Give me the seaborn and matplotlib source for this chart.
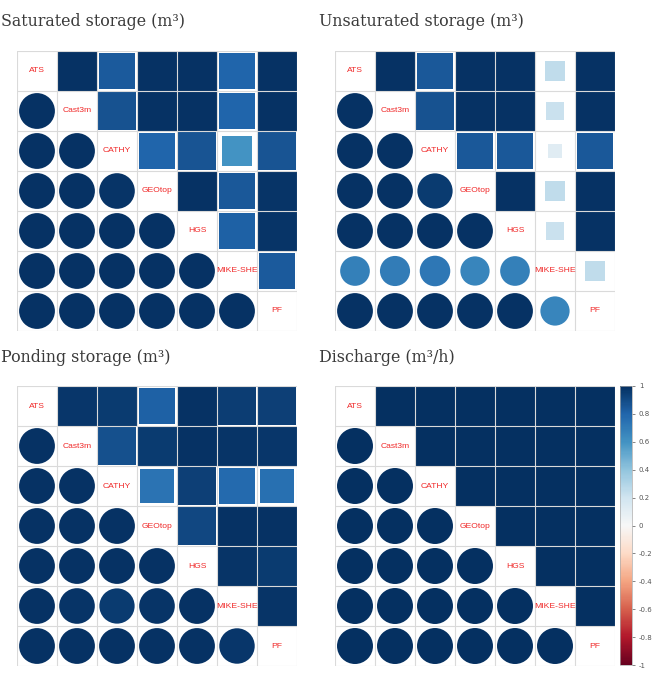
import numpy as np
import pandas as pd
import matplotlib
matplotlib.use("Agg")
import matplotlib.pyplot as plt
import seaborn as sns

sns.set_style("white")

models = ["ATS", "Cast3m", "CATHY", "GEOtop", "HGS", "MIKE-SHE", "PF"]

# upper triangle = squares, lower triangle = circles (diagonal not drawn)
sat_corr = [
    [1.00, 0.99, 0.84, 0.99, 0.99, 0.80, 0.99],
    [0.99, 1.00, 0.87, 0.99, 0.99, 0.80, 0.99],
    [0.99, 0.99, 1.00, 0.80, 0.86, 0.60, 0.86],
    [0.99, 0.99, 0.98, 1.00, 0.99, 0.85, 0.98],
    [0.99, 0.99, 0.99, 0.99, 1.00, 0.82, 0.98],
    [0.99, 0.99, 0.99, 0.99, 0.99, 1.00, 0.84],
    [0.99, 0.99, 0.99, 0.99, 0.99, 0.99, 1.00],
]
unsat_corr = [
    [1.00, 0.99, 0.85, 0.99, 0.99, 0.25, 0.99],
    [0.99, 1.00, 0.87, 0.99, 0.99, 0.22, 0.99],
    [0.99, 0.99, 1.00, 0.85, 0.85, 0.12, 0.85],
    [0.99, 0.99, 0.96, 1.00, 0.99, 0.25, 0.99],
    [0.99, 0.99, 0.99, 0.99, 1.00, 0.22, 0.99],
    [0.68, 0.70, 0.72, 0.66, 0.68, 1.00, 0.25],
    [0.99, 0.99, 0.99, 0.99, 0.99, 0.66, 1.00],
]
pond_corr = [
    [1.00, 0.97, 0.96, 0.82, 0.99, 0.95, 0.94],
    [0.99, 1.00, 0.88, 0.96, 0.99, 0.98, 0.97],
    [0.99, 0.99, 1.00, 0.74, 0.94, 0.78, 0.75],
    [0.99, 0.99, 0.99, 1.00, 0.91, 0.99, 0.99],
    [0.99, 0.99, 0.99, 0.99, 1.00, 0.98, 0.96],
    [0.99, 0.98, 0.96, 0.98, 0.99, 1.00, 0.98],
    [0.99, 0.99, 0.99, 0.99, 0.99, 0.97, 1.00],
]
dis_corr = [[1.0] * 7 for _ in range(7)]

titles = ["Saturated storage (m³)", "Unsaturated storage (m³)",
          "Ponding storage (m³)", "Discharge (m³/h)"]
cbar_ticks = [1, 0.8, 0.6, 0.4, 0.2, 0, -0.2, -0.4, -0.6, -0.8, -1]

W, H = 661, 673
fig = plt.figure(figsize=(W / 100, H / 100), dpi=100)

# panel boxes in pixels: left, top, size
boxes = [(17, 51, 280), (335, 51, 280), (17, 386, 280), (335, 386, 280)]
title_pos = [(1, 22), (319, 22), (1, 358), (319, 358)]
mats = [sat_corr, unsat_corr, pond_corr, dis_corr]

n = len(models)
for k in range(4):
    left, top, size = boxes[k]
    ax = fig.add_axes([left / W, 1 - (top + size) / H, size / W, size / H])
    m = np.array(mats[k])
    rows = []
    for i in range(n):
        for j in range(n):
            if i == j:
                continue
            rows.append({"x": j, "y": i, "r": m[i, j], "part": "upper" if j > i else "lower"})
    df = pd.DataFrame(rows)
    cell_pt = size / n * 72 / fig.dpi

    up = df[df["part"] == "upper"]
    lo = df[df["part"] == "lower"]
    sns.scatterplot(data=up, x="x", y="y", hue="r", palette="RdBu", hue_norm=(-1, 1),
                    marker="s", s=(cell_pt * np.sqrt(up["r"].abs())) ** 2,
                    linewidth=0, legend=False, ax=ax, zorder=2)
    sns.scatterplot(data=lo, x="x", y="y", hue="r", palette="RdBu", hue_norm=(-1, 1),
                    marker="o", s=(0.9 * cell_pt * np.sqrt(lo["r"].abs())) ** 2,
                    linewidth=0, legend=False, ax=ax, zorder=2)

    for i, name in enumerate(models):
        ax.text(i, i, name, color="#f02828", fontsize=6.1,
                family="Liberation Sans", ha="center", va="center", zorder=4)

    for b in np.arange(-0.5, n, 1):
        ax.axhline(b, color="#dadada", lw=0.8, zorder=3)
        ax.axvline(b, color="#dadada", lw=0.8, zorder=3)
    ax.set_xlim(-0.5, n - 0.5)
    ax.set_ylim(n - 0.5, -0.5)
    ax.set_xticks([])
    ax.set_yticks([])
    ax.set_xlabel("")
    ax.set_ylabel("")
    for sp in ax.spines.values():
        sp.set_visible(False)

    tx, ty = title_pos[k]
    fig.text(tx / W, 1 - ty / H, titles[k], family="DejaVu Serif", fontsize=11.4,
             color="#3a3a3a", ha="left", va="center")

# colour legend next to the discharge panel
cax = fig.add_axes([620 / W, 1 - 665 / H, 12 / W, 279 / H])
sm = plt.cm.ScalarMappable(cmap="RdBu", norm=plt.Normalize(-1, 1))
cb = fig.colorbar(sm, cax=cax, ticks=cbar_ticks)
cb.ax.set_yticklabels([f"{t:g}" for t in cbar_ticks])
cb.ax.tick_params(labelsize=5, length=2, width=0.5, colors="#555555", pad=3)
cb.outline.set_edgecolor("#aaaaaa")
cb.outline.set_linewidth(0.5)

fig.savefig("out.png", dpi=100, facecolor="white")
